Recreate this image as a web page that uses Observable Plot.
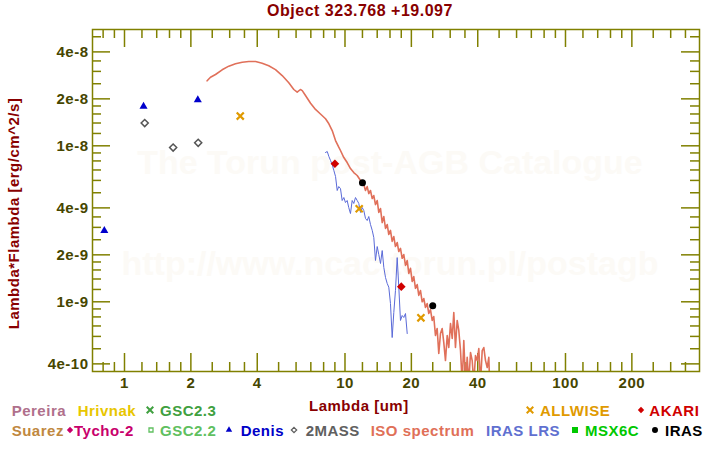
<!DOCTYPE html>
<html><head><meta charset="utf-8">
<script src="https://cdn.jsdelivr.net/npm/d3@7"></script>
<script src="https://cdn.jsdelivr.net/npm/@observablehq/plot@0.6"></script>
<style>
html,body{margin:0;padding:0;background:#fff;}
#wrap{position:relative;width:720px;height:450px;overflow:hidden;font-family:"Liberation Sans",Arial,sans-serif;font-weight:bold;}
.abs{position:absolute;white-space:nowrap;}
</style></head><body><div id="wrap"></div>
<script>
// ---------- text ----------
const title = "Object 323.768 +19.097";
const xLabel = "Lambda [um]";
const yLabel = "Lambda*Flambda [erg/cm^2/s]";
const watermark = ["The Torun post-AGB Catalogue", "http://www.ncac.torun.pl/postagb"];

// ---------- ticks ----------
const xTicksMajor = [1, 2, 4, 10, 20, 40, 100, 200];
const xTicksMinor = [0.8, 0.9, 1.2, 1.4, 1.6, 1.8, 2.5, 3, 3.5, 5, 6, 7, 8, 9, 12, 14, 16, 18, 25, 30, 35, 50, 60, 70, 80, 90, 120, 140, 160, 180, 250, 300, 350];
const yTicksMajor = [4e-8, 2e-8, 1e-8, 4e-9, 2e-9, 1e-9, 4e-10];
const yTickLabels = ["4e-8", "2e-8", "1e-8", "4e-9", "2e-9", "1e-9", "4e-10"];
const yTicksMinor = [5e-8, 3.5e-8, 3e-8, 2.5e-8, 1.8e-8, 1.6e-8, 1.4e-8, 1.2e-8, 9e-9, 8e-9, 7e-9, 6e-9, 5e-9, 3.5e-9, 3e-9, 2.5e-9, 1.8e-9, 1.6e-9, 1.4e-9, 1.2e-9, 9e-10, 8e-10, 7e-10, 6e-10, 5e-10];

// ---------- data (wavelength um, lambda*F_lambda erg/cm^2/s) ----------
const isoWave = [2.37, 2.455, 2.587, 2.773, 2.972, 3.187, 3.419, 3.662, 3.93, 4.21, 4.51, 4.84, 5.19, 5.56, 5.86, 6.07, 6.28, 6.40, 6.62, 6.98, 7.35, 7.74, 8.16, 8.45, 8.75, 9.06, 9.37, 9.54, 9.88, 10.23, 10.59, 10.96, 11.36, 11.76,
  12.17, 12.39, 12.61, 12.82, 13.05, 13.29, 13.51, 13.75, 14.00, 14.23, 14.49, 14.75, 15.00, 15.27, 15.54, 15.80, 16.08, 16.37, 16.65, 16.94, 17.25, 17.54, 17.85, 18.17, 18.48, 18.81, 19.15, 19.47, 19.82, 20.17, 20.51, 20.88, 21.26, 21.61, 22.00, 22.39, 22.77, 23.18, 23.59, 23.99, 24.42, 24.86, 25.27,
  25.72, 26.18, 26.63, 27.11, 27.59, 28.06, 28.56, 29.08, 29.56, 30.10, 30.64, 31.15, 31.70, 32.27, 32.82, 33.41, 34.01, 34.58, 35.20, 35.83, 36.43, 37.09, 37.75, 38.38, 39.07, 39.77, 40.45, 41.17, 41.91, 42.62, 43.38, 44.16, 44.90, 45.3];
const isoFlux = [2.61e-8, 2.75e-8, 2.864e-8, 3.07e-8, 3.24e-8, 3.355e-8, 3.435e-8, 3.47e-8, 3.47e-8, 3.384e-8, 3.26e-8, 3.08e-8, 2.82e-8, 2.535e-8, 2.296e-8, 2.206e-8, 2.296e-8, 2.26e-8, 2.10e-8, 1.875e-8, 1.71e-8, 1.60e-8, 1.49e-8, 1.384e-8, 1.253e-8, 1.081e-8, 9.80e-9, 9.33e-9, 8.41e-9, 7.81e-9, 7.15e-9, 6.74e-9, 6.45e-9, 5.99e-9,
  5.65e-9, 5.17e-9, 5.48e-9, 4.94e-9, 5.17e-9, 4.59e-9, 4.80e-9, 4.20e-9, 4.46e-9, 3.74e-9, 3.96e-9, 3.22e-9, 3.52e-9, 2.95e-9, 3.13e-9, 2.70e-9, 2.87e-9, 2.44e-9, 2.62e-9, 2.26e-9, 2.40e-9, 2.10e-9, 2.20e-9, 1.90e-9, 2.01e-9, 1.71e-9, 1.84e-9, 1.52e-9, 1.64e-9, 1.35e-9, 1.45e-9, 1.22e-9, 1.29e-9, 1.10e-9, 1.18e-9, 1.00e-9, 1.05e-9, 9.19e-10, 9.75e-10, 8.41e-10, 8.92e-10, 7.59e-10, 8.05e-10,
  6.08e-10, 6.74e-10, 4.66e-10, 6.26e-10, 6.74e-10, 5.48e-10, 4.20e-10, 6.08e-10, 5.09e-10, 7.26e-10, 5.82e-10, 8.54e-10, 5.09e-10, 7.59e-10, 6.55e-10, 4.87e-10, 3.0e-10, 5.65e-10, 3.0e-10, 4.40e-10, 3.0e-10, 4.73e-10, 4.20e-10, 3.0e-10, 4.53e-10, 4.20e-10, 5.02e-10, 3.0e-10, 4.87e-10, 5.09e-10, 4.20e-10, 3.79e-10, 4.40e-10, 3.0e-10];

const lrsWave = [8.16, 8.31, 8.45, 8.60, 8.75, 8.90, 9.06, 9.22, 9.37, 9.54, 9.71, 9.88, 10.05, 10.23, 10.40, 10.59, 10.78, 10.96, 11.16, 11.36, 11.55, 11.76, 11.97, 12.17, 12.39, 12.61, 12.82, 13.05, 13.29, 13.51, 13.75, 14.00, 14.23, 14.49, 14.75, 15.00, 15.27, 15.54, 15.80, 16.08, 16.37, 16.65, 16.94, 17.25, 17.54, 17.85, 18.17, 18.48, 18.81, 19.15];
const lrsFlux = [9.06e-9, 9.19e-9, 8.54e-9, 8.05e-9, 7.59e-9, 6.95e-9, 6.36e-9, 5.17e-9, 5.48e-9, 5.32e-9, 4.46e-9, 4.66e-9, 4.33e-9, 4.46e-9, 4.02e-9, 3.68e-9, 4.46e-9, 4.27e-9, 4.66e-9, 4.46e-9, 4.27e-9, 3.74e-9, 4.02e-9, 3.85e-9, 3.42e-9, 3.32e-9, 3.52e-9, 3.13e-9, 2.87e-9, 2.58e-9, 1.84e-9, 2.26e-9, 2.01e-9, 1.76e-9, 2.13e-9, 1.66e-9, 1.43e-9, 1.31e-9, 1.24e-9, 9.75e-10, 5.90e-10, 8.54e-10, 1.18e-9, 1.92e-9, 1.24e-9, 7.59e-10, 8.17e-10, 7.93e-10, 8.41e-10, 6.26e-10];

const denisWave = [0.81, 1.22, 2.15];
const denisFlux = [2.86e-9, 1.79e-8, 1.97e-8];
const twomassWave = [1.235, 1.662, 2.159];
const twomassFlux = [1.40e-8, 9.75e-9, 1.045e-8];
const allwiseWave = [3.35, 11.6, 22.1];
const allwiseFlux = [1.55e-8, 3.95e-9, 7.89e-10];
const akariWave = [9, 18];
const akariFlux = [7.67e-9, 1.25e-9];
const irasWave = [12, 25];
const irasFlux = [5.79e-9, 9.43e-10];

// ---------- legend ----------
const legendNames  = ["Pereira", "Hrivnak", "GSC2.3", "ALLWISE", "AKARI", "Suarez", "Tycho-2", "GSC2.2", "Denis", "2MASS", "ISO spectrum", "IRAS LRS", "MSX6C", "IRAS"];
const legendColors = ["#b0708c", "#e8c600", "#40a040", "#e09a00", "#d00000", "#c08840", "#c8006c", "#60c060", "#0000c8", "#606060", "#e07058", "#6070d0", "#00c800", "#000000"];
const legendSymbols = [null, null, "times", "times", "diamond", null, "diamond", "squareOpen", "triangle", "diamondOpen", null, null, "square", "circle"];

// layout of legend (pixels)
const legendRow   = [0, 0, 0, 0, 0, 1, 1, 1, 1, 1, 1, 1, 1, 1];
const legendTextX = [11.7, 77.7, 160, 540, 649.3, 11.7, 74, 160, 240.7, 305.7, 370.7, 486, 585, 665];
const legendSymX  = [0, 0, 150.3, 529.7, 640.8, 0, 69.7, 150.5, 228.7, 294.2, 0, 0, 575.2, 654.7];

const pairs = (w, f) => w.map((d, i) => ({w: d, f: f[i]}));
const iso = pairs(isoWave, isoFlux), lrs = pairs(lrsWave, lrsFlux);
const denis = pairs(denisWave, denisFlux), twomass = pairs(twomassWave, twomassFlux);
const allwise = pairs(allwiseWave, allwiseFlux), akari = pairs(akariWave, akariFlux), iras = pairs(irasWave, irasFlux);

const W = 720, H = 400, ml = 92, mr = 21, mt = 29, mb = 29;
const fw = W - ml - mr, fh = H - mt - mb;
const olive = "#808000", tickText = "#464600", darkRed = "#880000";
const major = 18, minor = 9;
const fmtY = d => yTickLabels[yTicksMajor.findIndex(v => Math.abs(v - d) / v < 1e-6)];

const wrap = document.getElementById("wrap");

// watermark (beneath the plot)
const wmTop = [145.2, 246.2];
watermark.forEach((t, i) => {
  const d = document.createElement("div");
  d.className = "abs";
  d.textContent = t;
  Object.assign(d.style, {left: "0px", width: "780px", textAlign: "center", top: wmTop[i] + "px", fontSize: "34px", lineHeight: "34px", color: "#fcfaf6"});
  wrap.appendChild(d);
});

const plot = Plot.plot({
  width: W, height: H,
  marginLeft: ml, marginRight: mr, marginTop: mt, marginBottom: mb,
  style: {background: "transparent", fontFamily: "Liberation Sans, Arial, sans-serif", fontWeight: "bold", fontSize: "15px", letterSpacing: "0.5px", position: "absolute", left: "0px", top: "0px"},
  x: {type: "log", domain: [0.716, 405.3]},
  y: {type: "log", domain: [3.574e-10, 5.567e-8]},
  marks: [
    // inward ticks on all four sides
    Plot.tickY(yTicksMajor, {y: d => d, stroke: olive, strokeWidth: 1.5, insetRight: fw - major}),
    Plot.tickY(yTicksMajor, {y: d => d, stroke: olive, strokeWidth: 1.5, insetLeft: fw - major}),
    Plot.tickY(yTicksMinor, {y: d => d, stroke: olive, strokeWidth: 1.5, insetRight: fw - minor}),
    Plot.tickY(yTicksMinor, {y: d => d, stroke: olive, strokeWidth: 1.5, insetLeft: fw - minor}),
    Plot.tickX(xTicksMajor, {x: d => d, stroke: olive, strokeWidth: 1.5, insetTop: fh - major}),
    Plot.tickX(xTicksMajor, {x: d => d, stroke: olive, strokeWidth: 1.5, insetBottom: fh - major}),
    Plot.tickX(xTicksMinor, {x: d => d, stroke: olive, strokeWidth: 1.5, insetTop: fh - minor}),
    Plot.tickX(xTicksMinor, {x: d => d, stroke: olive, strokeWidth: 1.5, insetBottom: fh - minor}),
    Plot.axisY({ticks: yTicksMajor, tickSize: 0, tickPadding: 4, tickFormat: fmtY, color: tickText, label: null, fontSize: 15, fontWeight: "bold"}),
    Plot.axisX({ticks: xTicksMajor, tickSize: 0, tickPadding: 6, tickFormat: d => String(d), color: tickText, label: null, fontSize: 15, fontWeight: "bold"}),
    // spectra
    Plot.line(iso, {x: "w", y: "f", stroke: "#e0705a", strokeWidth: 1.6, clip: true}),
    Plot.line(lrs, {x: "w", y: "f", stroke: "#5a6ad8", strokeWidth: 1, clip: true}),
    // photometry
    Plot.dot(denis, {x: "w", y: "f", symbol: "triangle", r: 3, fill: "#0000cc", stroke: "none", clip: true}),
    Plot.dot(twomass, {x: "w", y: "f", symbol: "diamond2", r: 3.2, fill: "none", stroke: "#555555", strokeWidth: 1.5, clip: true}),
    Plot.dot(allwise, {x: "w", y: "f", symbol: "times", r: 3.3, fill: "none", stroke: "#e09a00", strokeWidth: 2.2, clip: true}),
    Plot.dot(akari, {x: "w", y: "f", symbol: "diamond2", r: 3.9, fill: "#d00000", stroke: "none", clip: true}),
    Plot.dot(iras, {x: "w", y: "f", symbol: "circle", r: 3.5, fill: "#000000", stroke: "none", clip: true}),
    Plot.frame({stroke: olive, strokeWidth: 1.5})
  ]
});
wrap.appendChild(plot);

function addText(txt, left, top, size, color, extra) {
  const d = document.createElement("div");
  d.className = "abs";
  d.textContent = txt;
  Object.assign(d.style, {left: left + "px", top: top + "px", fontSize: size + "px", lineHeight: size + "px", color, letterSpacing: "0.5px"}, extra || {});
  wrap.appendChild(d);
  return d;
}
// title
addText(title, 0, 3, 16, darkRed, {width: "720px", textAlign: "center"});
// x label
addText(xLabel, 309, 397.8, 15, darkRed);
// y label (rotated)
addText(yLabel, 13 - 160, 213 - 7.5, 15, darkRed, {width: "320px", textAlign: "center", transform: "rotate(-90deg)", transformOrigin: "50% 50%"});

// legend
const rowTop = [402.8, 422.8], rowMid = [410.3, 430];
const symSpec = {
  times: {type: d3.symbolTimes, size: 30, fill: false, sw: 2},
  diamond: {type: d3.symbolDiamond2, size: 26, fill: true, sw: 0},
  squareOpen: {type: d3.symbolSquare, size: 16, fill: false, sw: 1.3},
  triangle: {type: d3.symbolTriangle, size: 18, fill: true, sw: 0},
  diamondOpen: {type: d3.symbolDiamond2, size: 18, fill: false, sw: 1.3},
  square: {type: d3.symbolSquare, size: 36, fill: true, sw: 0},
  circle: {type: d3.symbolCircle, size: 28, fill: true, sw: 0}
};
legendNames.forEach((name, i) => {
  const row = legendRow[i];
  addText(name, legendTextX[i], rowTop[row], 15, legendColors[i]);
  const s = legendSymbols[i];
  if (s) {
    const sp = symSpec[s];
    const svg = d3.create("svg").attr("width", 14).attr("height", 14)
      .style("position", "absolute").style("left", (legendSymX[i] - 7) + "px").style("top", (rowMid[row] - 7) + "px");
    svg.append("path").attr("transform", "translate(7,7)")
      .attr("d", d3.symbol(sp.type, sp.size)())
      .attr("fill", sp.fill ? legendColors[i] : "none")
      .attr("stroke", sp.fill ? "none" : legendColors[i])
      .attr("stroke-width", sp.sw);
    wrap.appendChild(svg.node());
  }
});
</script></body></html>
